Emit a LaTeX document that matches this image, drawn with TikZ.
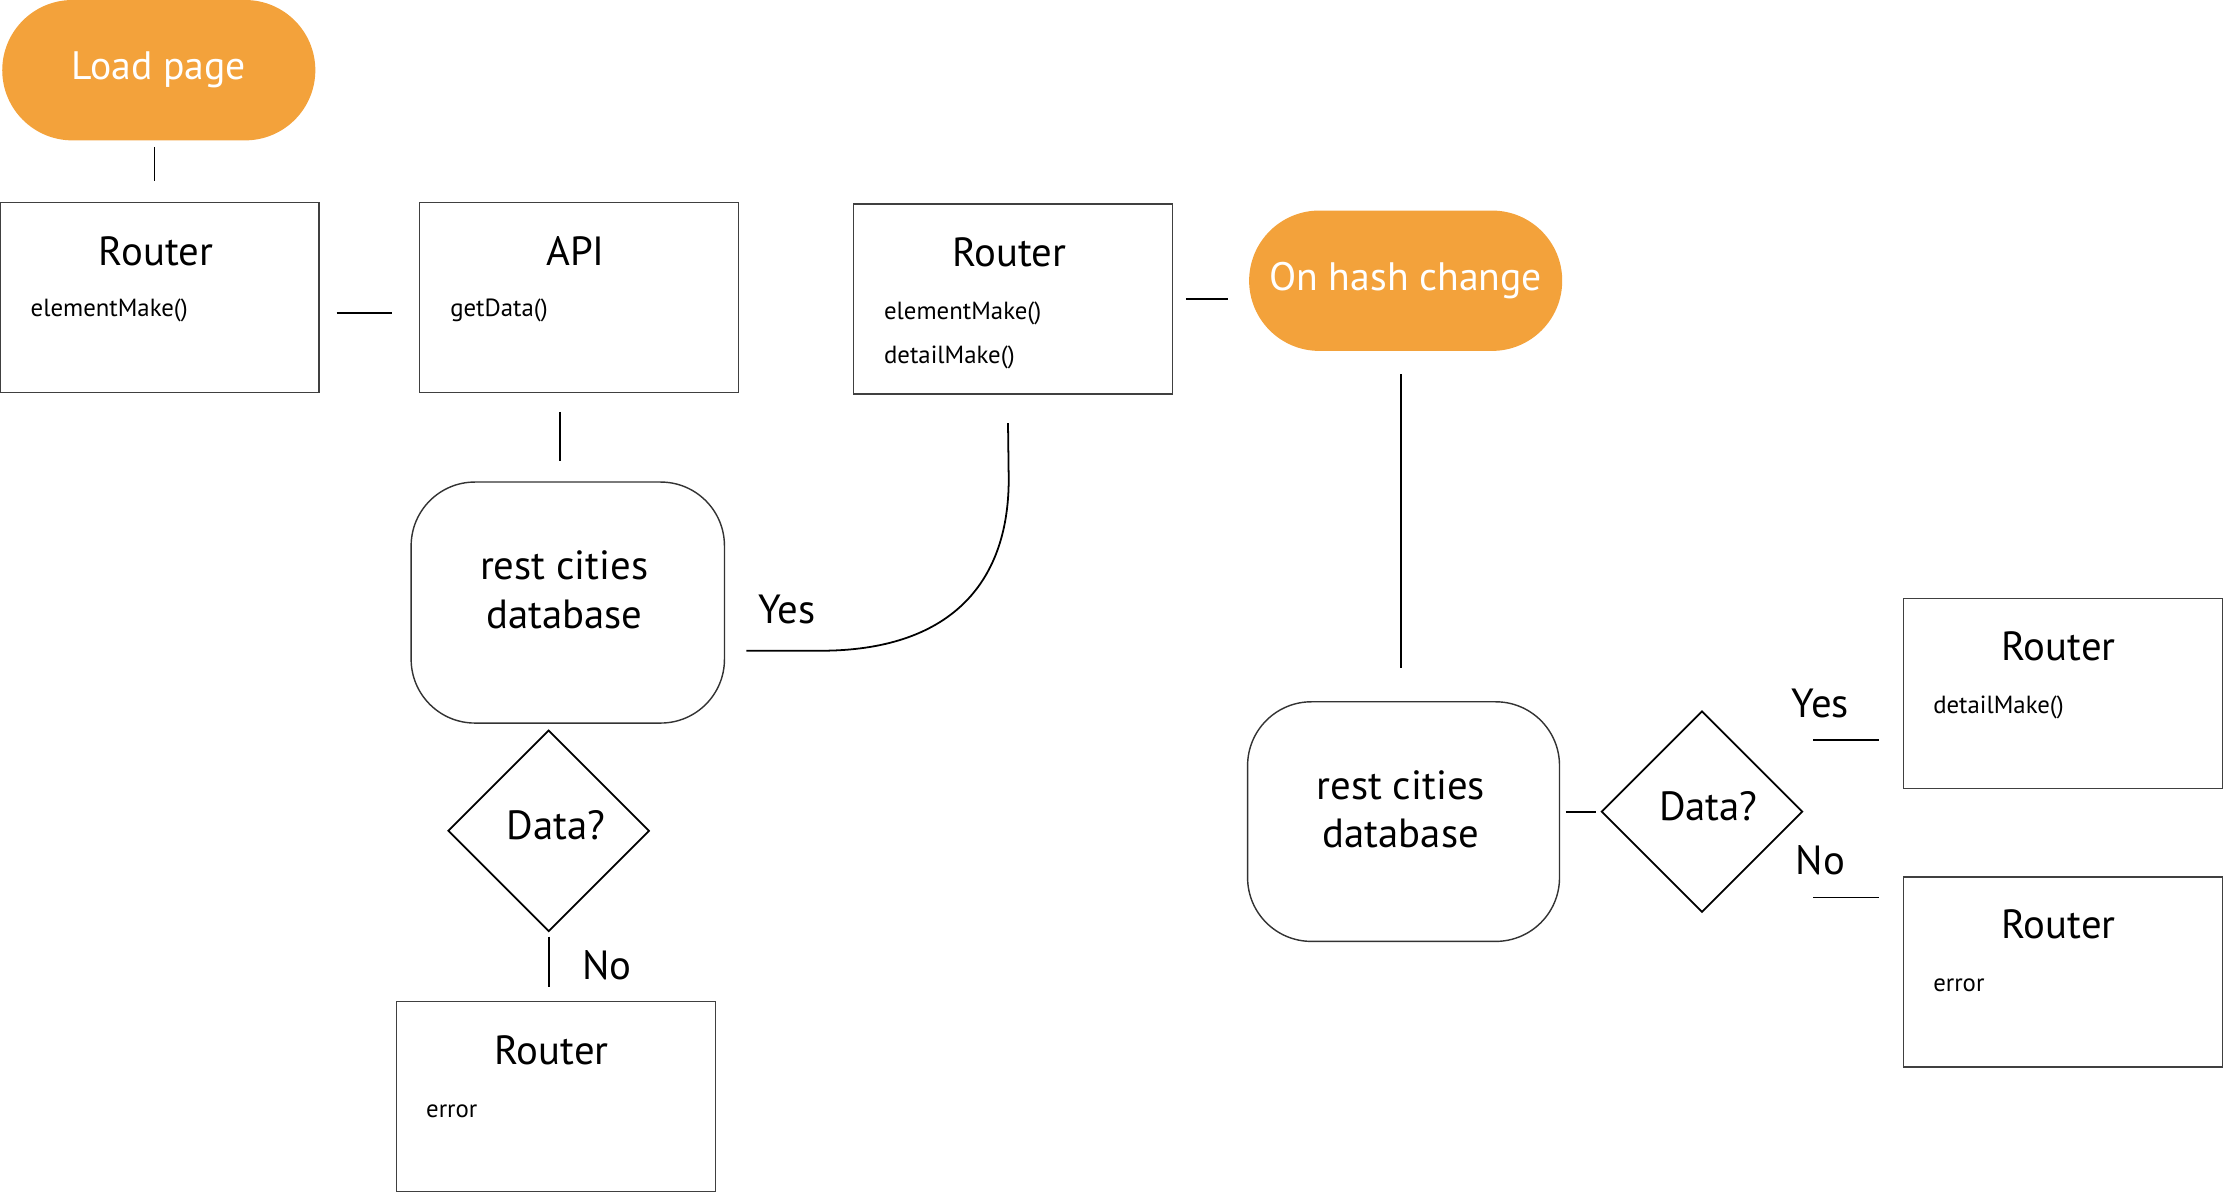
\documentclass[tikz,border=0pt]{standalone}
\usepackage{fontspec}
\setmainfont{PT Sans}
\usetikzlibrary{shapes.geometric, shapes.misc}
\definecolor{pill}{RGB}{243,162,59}
\tikzstyle{event}=[rounded rectangle, fill=pill, text=white, minimum width=95pt, minimum height=39.6pt, font=\fontsize{11.2}{13}\selectfont]
\tikzstyle{module}=[rectangle, draw=black!75, line width=0.4pt, minimum width=90pt, minimum height=53.6pt]
\tikzstyle{title}=[inner sep=0pt, font=\fontsize{11.5}{13}\selectfont]
\tikzstyle{method}=[anchor=west, inner sep=0pt, font=\fontsize{7}{8}\selectfont]
\tikzstyle{store}=[rectangle, rounded corners=18pt, draw=black!80, line width=0.4pt, minimum width=88.4pt, minimum height=68pt]
\tikzstyle{storetext}=[inner sep=0pt, align=center, font=\fontsize{11.5}{13.6}\selectfont]
\tikzstyle{check}=[diamond, draw, line width=0.5pt, minimum width=56.8pt, minimum height=56.8pt, inner sep=0pt]
\tikzstyle{answer}=[inner sep=0pt, font=\fontsize{11.5}{13}\selectfont]

\begin{document}
\begin{tikzpicture}[x=0.4pt, y=-0.4pt, line width=0.5pt]
                    \useasboundingbox (0,0) rectangle (1568,842);
                    % start
                    \node[event] (load) at (112,49.5) {Load page};
                    \node[module] (router1) at (112.5,210) {};
                    \node[title] (router1t) at (110,177) {Router};
                    \node[method] (router1m) at (21,219) {elementMake()};
                    \node[module] (api) at (408.5,210) {};
                    \node[title] (apit) at (406,177) {API};
                    \node[method] (apim) at (317,219) {getData()};
                    \node[store] (db1) at (400.5,425) {};
                    \node[storetext] (db1t) at (398,416) {rest cities\\database};
                    \node[check] (dia1) at (387,586) {};
                    \node[answer] (dia1t) at (392,582) {Data?};
                    \node[module] (router3) at (392,773.5) {};
                    \node[title] (router3t) at (389,741) {Router};
                    \node[method] (router3m) at (300,784) {error};
                    \node[module] (router2) at (714.5,211) {};
                    \node[title] (router2t) at (712,178) {Router};
                    \node[method] (router2m) at (623,221) {elementMake()};
                    \node[method] (router2n) at (623,252) {detailMake()};
                    \node[answer] (yes1) at (555,430) {Yes};
                    \node[answer] (no1) at (428,681) {No};
                    % hash change
                    \node[event] (hash) at (991.5,198) {On hash change};
                    \node[store, minimum width=88pt, minimum height=67.6pt] (db2) at (990,579.5) {};
                    \node[storetext] (db2t) at (988,571) {rest cities\\database};
                    \node[check] (dia2) at (1200.5,572.5) {};
                    \node[answer] (dia2t) at (1205,569) {Data?};
                    \node[module] (router4) at (1455,489) {};
                    \node[title] (router4t) at (1452,456) {Router};
                    \node[method] (router4m) at (1363,499) {detailMake()};
                    \node[module] (router5) at (1455,685.5) {};
                    \node[title] (router5t) at (1452,652) {Router};
                    \node[method] (router5m) at (1363,695) {error};
                    \node[answer] (yes2) at (1284,496) {Yes};
                    \node[answer] (no2) at (1284,607) {No};
                    % links
                    \coordinate (link0) at ([xshift=-1.2pt]load.south);
                    \coordinate (link1) at ([yshift=-4.4pt]router1.east);
                    \coordinate (link2) at ([xshift=-5.4pt]api.south);
                    \coordinate (link3) at ([xshift=-1.4pt]hash.south);
                    \coordinate (yes2c) at ([yshift=-13.2pt]router4.west);
                    \coordinate (no2c) at ([yshift=21pt]router5.west);
                    \draw[shorten <=1.6pt, shorten >=6pt] (link0)--(link0 |- router1.north);
                    \draw[shorten <=4.8pt, shorten >=7.6pt] (link1)--(link1 -| api.west);
                    \draw[shorten <=5.2pt, shorten >=5.6pt] (link2)--(link2 |- db1.north);
                    \draw ([shift={(15,34)}]db1.east)--++(52,0) .. controls +(90,0) and +(0,75) .. ++(133,-121)--([shift={(-3.5,20)}]router2.south);
                    \draw[shorten <=1.2pt, shorten >=4pt] (dia1.south)--(dia1.south |- router3.north);
                    \draw[shorten <=3.6pt, shorten >=5.6pt] (router2.east)--(router2.east -| hash.west);
                    \draw[shorten <=6.4pt, shorten >=9.2pt] (link3)--(link3 |- db2.north);
                    \draw[shorten <=1.6pt, shorten >=1.2pt] (dia2.west -| db2.east)--(dia2.west);
                    \draw[shorten <=2.8pt, shorten >=6.8pt] (yes2c -| dia2.east)--(yes2c);
                    \draw[shorten <=2.8pt, shorten >=6.8pt] (no2c -| dia2.east)--(no2c);
                \end{tikzpicture}
\end{document}
